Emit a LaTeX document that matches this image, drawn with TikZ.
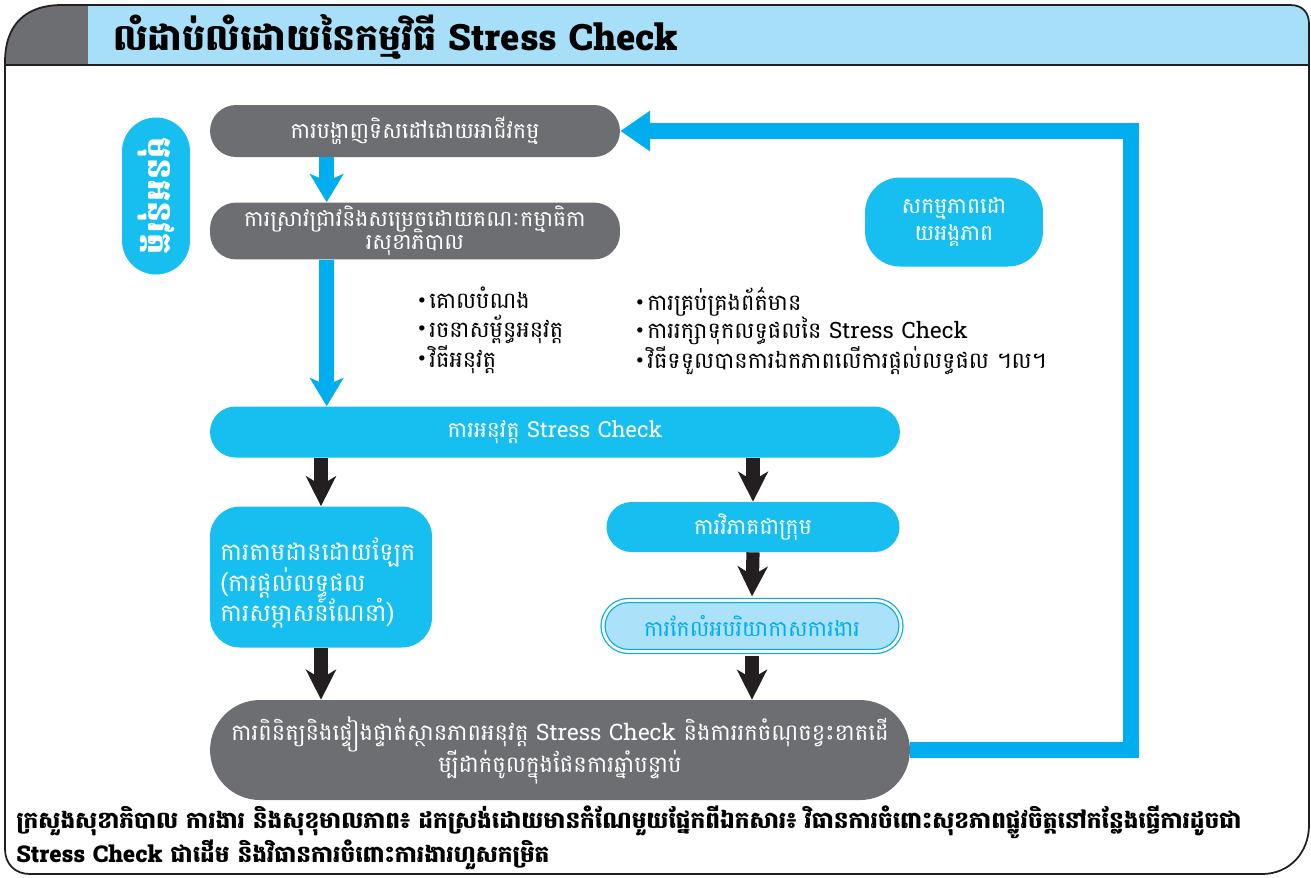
\documentclass[tikz,border=0pt]{standalone}
\usepackage{fontspec}
\setmainfont[Script=Khmer]{Battambang}
\usepackage{xcolor}
\usetikzlibrary{arrows.meta,positioning}

\definecolor{boxgray}{HTML}{6D6E71}
\definecolor{boxblue}{HTML}{17BFF1}
\definecolor{linkblue}{HTML}{00AEEF}
\definecolor{headblue}{HTML}{A8DFF8}
\definecolor{paleblue}{HTML}{ABE1F9}
\definecolor{arrblack}{HTML}{231F20}

\newcommand{\dotmark}{\raisebox{0.45ex}{\scriptsize$\bullet$}\,}

\begin{document}
\begin{tikzpicture}[x=0.02cm,y=-0.02cm,line join=miter,
    pill/.style={inner sep=2pt,align=center,text=white,font=\fontsize{12.5}{15}\selectfont},
    graypill/.style={pill,fill=boxgray},
    bluepill/.style={pill,fill=boxblue},
    bluearr/.style={linkblue,line width=8.5pt,-{Stealth[length=16pt,width=19pt,inset=4pt]}},
    blackarr/.style={arrblack,line width=7.5pt,-{Stealth[length=17pt,width=17pt,inset=5pt]}},
    bullets/.style={align=left,inner sep=0pt,font=\fontsize{12.8}{16}\selectfont}]
    \useasboundingbox (0,0) rectangle (1311,877);
    % ============ Frame and header ============
    \fill[white] (0,0) rectangle (1311,877);
    \fill[boxgray] (5,65) -- (5,62) .. controls (5,25) and (25,5) .. (62,5) -- (88,5) -- (88,65) -- cycle;
    \fill[headblue] (88,5) -- (1290,5) .. controls (1302,5) and (1309,12) .. (1309,24) -- (1309,65) -- (88,65) -- cycle;
    \draw[arrblack,line width=1.2pt] (5,65) -- (1309,65);
    \draw[arrblack,line width=1pt]
      (5,62) .. controls (5,25) and (25,5) .. (62,5) -- (1290,5)
        .. controls (1302,5) and (1309,12) .. (1309,24) -- (1309,825)
        .. controls (1309,852) and (1290,874) .. (1262,874) -- (30,874)
        .. controls (15,874) and (5,864) .. (5,849) -- cycle;
    \node[anchor=west,font=\fontsize{20.7}{24}\selectfont\bfseries,inner sep=0pt] (title) at (113,37)
      {លំដាប់លំដោយនៃកម្មវិធី Stress Check};
    % ============ Boxes ============
    \node[graypill,minimum width=8.2cm,minimum height=1.04cm,rounded corners=0.52cm] (policy) at (415,131)
      {ការបង្ហាញទិសដៅដោយអាជីវកម្ម};
    \node[graypill,minimum width=8.2cm,minimum height=1.04cm,rounded corners=0.52cm] (board) at (415,231)
      {ការស្រាវជ្រាវនិងសម្រេចដោយគណៈកម្មាធិកា\\[-3pt]រសុខាភិបាល};
    \node[bluepill,minimum width=1.36cm,minimum height=3.14cm,rounded corners=0.68cm] (before) at (156,196) {};
    \node[rotate=-90,text=white,inner sep=0pt,font=\fontsize{19}{22}\selectfont\bfseries] (beforetxt) at (before)
      {មុនអនុវត្ត};
    \node[bluepill,minimum width=3.56cm,minimum height=1.78cm,rounded corners=0.7cm] (unit) at (954,222)
      {សកម្មភាពដោ\\យអង្គភាព};
    \node[bullets,anchor=north west] (listA) at (418,287)
      {\dotmark គោលបំណង\\\dotmark រចនាសម្ព័ន្ធអនុវត្ត\\\dotmark វិធីអនុវត្ត};
    \node[bullets,anchor=north west] (listB) at (636,287)
      {\dotmark ការគ្រប់គ្រងព័ត៌មាន\\\dotmark ការរក្សាទុកលទ្ធផលនៃ Stress Check\\\dotmark វិធីទទួលបានការឯកភាពលើការផ្តល់លទ្ធផល ។ល។};
    \node[bluepill,minimum width=13.8cm,minimum height=1.02cm,rounded corners=0.51cm] (check) at (555,432)
      {ការអនុវត្ត Stress Check};
    \node[bluepill,minimum width=4.44cm,minimum height=2.82cm,rounded corners=0.6cm] (self) at (321,577) {};
    \node[anchor=west,align=left,text=white,inner sep=0pt,font=\fontsize{13.8}{17.5}\selectfont] (selftxt) at (220,583)
      {ការតាមដានដោយឡែក\\(ការផ្តល់លទ្ធផល\\ការសម្ភាសន៍ណែនាំ)};
    \node[bluepill,minimum width=5.86cm,minimum height=1.0cm,rounded corners=0.5cm] (group) at (753,527)
      {ការវិភាគជាក្រុម};
    \node[pill,fill=paleblue,text=linkblue,draw=linkblue,line width=0.7pt,double=white,double distance=1.6pt,
      minimum width=5.96cm,minimum height=1.02cm,rounded corners=0.51cm] (improve) at (752,626)
      {ការកែលំអបរិយាកាសការងារ};
    \node[graypill,minimum width=14cm,minimum height=2cm,rounded corners=1cm,font=\fontsize{12.9}{15}\selectfont] (review) at (560,750)
      {ការពិនិត្យនិងផ្ទៀងផ្ទាត់ស្ថានភាពអនុវត្ត Stress Check និងការរកចំណុចខ្វះខាតដើ\\[-2pt]ម្បីដាក់ចូលក្នុងផែនការឆ្នាំបន្ទាប់};
    % ============ Arrows ============
    \draw[bluearr] ([xshift=2.34cm]policy.south west) -- ([xshift=2.34cm]board.north west);
    \draw[bluearr] ([xshift=2.34cm]board.south west) -- ([xshift=2.34cm]check.north west);
    \draw[blackarr] (self.north |- check.south) -- (self.north);
    \draw[blackarr] (group.north |- check.south) -- (group.north);
    \draw[blackarr] (group.south) -- ([yshift=2pt]improve.north);
    \draw[blackarr] (self.south) -- (self.south |- review.north);
    \draw[blackarr] ([yshift=-2pt]improve.south) -- (improve.south |- review.north);
    \coordinate (turn) at (1131,133);
    \draw[linkblue,line width=9pt,-{Triangle[length=17pt,width=22pt]}] (review.east) -| (turn) |- (policy.east);
    % ============ Source note ============
    \node[anchor=north west,align=left,inner sep=0pt,font=\fontsize{13.2}{15.5}\selectfont\bfseries] (source) at (16,805)
      {ក្រសួងសុខាភិបាល ការងារ និងសុខុមាលភាព៖ ដកស្រង់ដោយមានកំណែមួយផ្នែកពីឯកសារ៖ វិធានការចំពោះសុខភាពផ្លូវចិត្តនៅកន្លែងធ្វើការដូចជា\\Stress Check ជាដើម និងវិធានការចំពោះការងារហួសកម្រិត};
\end{tikzpicture}
\end{document}
